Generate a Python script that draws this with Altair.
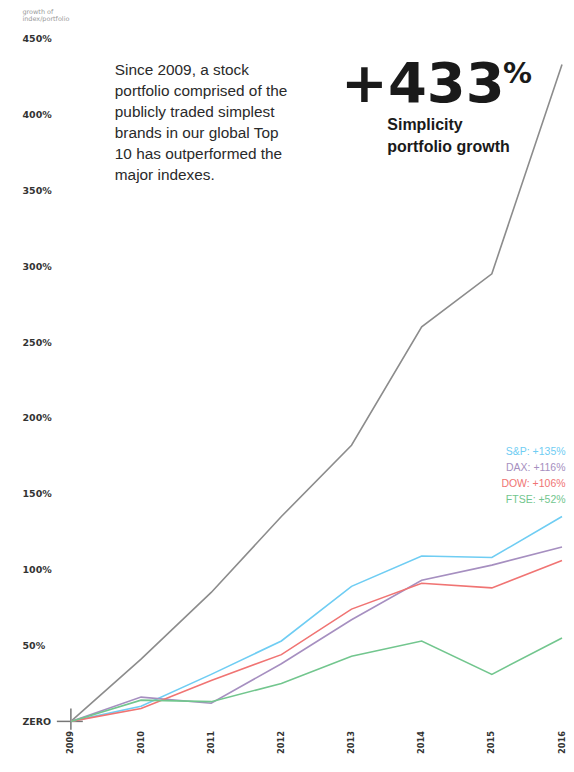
import altair as alt
import pandas as pd

years = [2009, 2010, 2011, 2012, 2013, 2014, 2015, 2016]
simplicity = [0, 41, 85, 135, 182, 260, 295, 433]
sp = [0, 10, 31, 53, 89, 109, 108, 135]
dax = [0, 16, 12, 38, 67, 93, 103, 115]
dow = [0, 8.5, 27, 44, 74, 91, 88, 106]
ftse = [0, 14, 13, 25, 43, 53, 31, 55]

series_names = ["Simplicity", "S&P", "DAX", "DOW", "FTSE"]
series_colors = ["#8c8c8c", "#6fcdf3", "#a68fc0", "#f07473", "#72c68e"]
y_ticks = [0, 50, 100, 150, 200, 250, 300, 350, 400, 450]

legend_labels = ["S&P: +135%", "DAX: +116%", "DOW: +106%", "FTSE: +52%"]
legend_y = [177.8, 167.1, 156.6, 145.6]

para_lines = ["Since 2009, a stock", "portfolio comprised of the", "publicly traded simplest",
              "brands in our global Top", "10 has outperformed the", "major indexes."]

rows = []
for name, vals in zip(series_names, [simplicity, sp, dax, dow, ftse]):
    for yr, v in zip(years, vals):
        rows.append({"year": yr, "value": v, "series": name})
df = pd.DataFrame(rows)

xs = alt.Scale(domain=[2009, 2016], nice=False, zero=False)
ys = alt.Scale(domain=[0, 450], nice=False, zero=False)

color = alt.Color("series:N", scale=alt.Scale(domain=series_names, range=series_colors), legend=None)

base_x = alt.X("year:Q", scale=xs, axis=alt.Axis(values=years, format="d", labelAngle=270,
                                                  ticks=False, tickSize=0, domain=False, grid=False,
                                                  labelPadding=9, labelFont="DejaVu Sans",
                                                  labelFontWeight="bold", labelFontSize=8.3,
                                                  labelColor="#333", title=None))
base_y = alt.Y("value:Q", scale=ys, axis=alt.Axis(values=y_ticks, ticks=False, tickSize=0, domain=False,
                                                   grid=False, labelAlign="left", labelPadding=49,
                                                   labelBaseline="middle",
                                                   labelExpr="datum.value == 0 ? 'ZERO' : datum.value + '%'",
                                                   labelFont="DejaVu Sans", labelFontWeight="bold",
                                                   labelFontSize=9.5, labelColor="#333",
                                                   title=["growth of", "index/portfolio"], titleAngle=0,
                                                   titleAlign="left", titleBaseline="top", titleX=-49,
                                                   titleY=-30, titleFontSize=6.5, titleFontWeight="normal",
                                                   titleFont="DejaVu Sans", titleColor="#999",
                                                   titleLineHeight=7))

# cross at origin
cross_h = pd.DataFrame({"x": [2008.80], "x2": [2009.17], "y": [0]})
cross_v = pd.DataFrame({"x": [2009], "y": [8.5], "y2": [-5.5]})
ch = alt.Chart(cross_h).mark_rule(color="#777", strokeWidth=1.5).encode(
    x=alt.X("x:Q", scale=xs), x2="x2:Q", y=alt.Y("y:Q", scale=ys))
cv = alt.Chart(cross_v).mark_rule(color="#777", strokeWidth=1.5).encode(
    x=alt.X("x:Q", scale=xs), y=alt.Y("y:Q", scale=ys), y2="y2:Q")

lines = alt.Chart(df).mark_line(strokeWidth=1.6).encode(
    x=base_x, y=base_y, color=color, order=alt.Order("year:Q"))

leg_df = pd.DataFrame({"label": legend_labels, "series": series_names[1:], "y": legend_y,
                       "x": [2016.05] * 4})
leg = alt.Chart(leg_df).mark_text(align="right", baseline="middle", font="Liberation Sans",
                                  fontSize=10.5).encode(
    x=alt.X("x:Q", scale=xs), y=alt.Y("y:Q", scale=ys), text="label:N", color=color)

para_df = pd.DataFrame({"x": [2009.626], "y": [425.8], "t": ["\n".join(para_lines)]})
para = alt.Chart(para_df).mark_text(align="left", baseline="alphabetic", font="Liberation Sans",
                                    fontSize=15.4, lineHeight=21, color="#2a2a2a", lineBreak="\n").encode(
    x=alt.X("x:Q", scale=xs), y=alt.Y("y:Q", scale=ys), text="t:N")

big_df = pd.DataFrame({"x": [2012.851], "y": [408.5], "t": ["+433"]})
big = alt.Chart(big_df).mark_text(align="left", baseline="alphabetic", font="DejaVu Sans",
                                  fontWeight="bold", fontSize=56, color="#1a1a1a").encode(
    x=alt.X("x:Q", scale=xs), y=alt.Y("y:Q", scale=ys), text="t:N")

pct_df = pd.DataFrame({"x": [2015.16], "y": [421], "t": ["%"]})
pct = alt.Chart(pct_df).mark_text(align="left", baseline="alphabetic", font="DejaVu Sans",
                                  fontWeight="bold", fontSize=29, color="#1a1a1a").encode(
    x=alt.X("x:Q", scale=xs), y=alt.Y("y:Q", scale=ys), text="t:N")

sub_df = pd.DataFrame({"x": [2013.51], "y": [389.6], "t": ["Simplicity\nportfolio growth"]})
sub = alt.Chart(sub_df).mark_text(align="left", baseline="alphabetic", font="Liberation Sans",
                                  fontWeight="bold", fontSize=16, lineHeight=22, color="#1a1a1a",
                                  lineBreak="\n").encode(
    x=alt.X("x:Q", scale=xs), y=alt.Y("y:Q", scale=ys), text="t:N")

chart = alt.layer(ch, cv, lines, leg, para, big, pct, sub).properties(
    width=492, height=684,
    autosize=alt.AutoSizeParams(type="none"),
    padding={"left": 63, "top": 30, "right": 4, "bottom": 34},
).configure(background="white").configure_view(stroke=None)

chart.save("out.html", embed_options={"renderer": "svg", "actions": False})
